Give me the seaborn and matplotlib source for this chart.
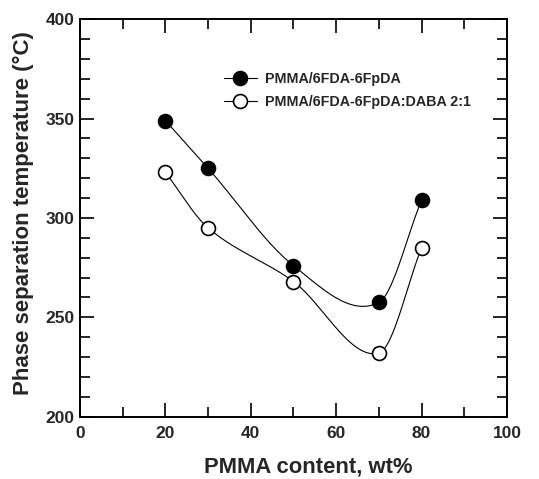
import numpy as np
import pandas as pd
import seaborn as sns
import matplotlib.pyplot as plt
from matplotlib.lines import Line2D
from matplotlib.ticker import MultipleLocator

# data
pmma_wt = [20, 30, 50, 70, 80]
t_6fpda = [349, 325, 276, 257.5, 309]
t_6fpda_daba = [323, 295, 268, 232, 285]
labels = ["PMMA/6FDA-6FpDA", "PMMA/6FDA-6FpDA:DABA 2:1"]


def smooth_curve(x, y, n=60):
    """cardinal (Catmull-Rom style) hermite curve through the points, for the guide lines"""
    x = np.asarray(x, float)
    y = np.asarray(y, float)
    k = len(x)
    m = np.zeros(k)
    m[0] = (y[1] - y[0]) / (x[1] - x[0])
    m[-1] = (y[-1] - y[-2]) / (x[-1] - x[-2])
    for i in range(1, k - 1):
        m[i] = (y[i + 1] - y[i - 1]) / (x[i + 1] - x[i - 1])
    xs_all, ys_all = [], []
    for i in range(k - 1):
        h = x[i + 1] - x[i]
        t = np.linspace(0, 1, n)
        h00 = 2 * t**3 - 3 * t**2 + 1
        h10 = t**3 - 2 * t**2 + t
        h01 = -2 * t**3 + 3 * t**2
        h11 = t**3 - t**2
        xs_all.append(x[i] + t * h)
        ys_all.append(h00 * y[i] + h10 * h * m[i] + h01 * y[i + 1] + h11 * h * m[i + 1])
    return np.concatenate(xs_all), np.concatenate(ys_all)


sns.set_theme(style="ticks")
plt.rcParams['font.family'] = ['Liberation Sans', 'DejaVu Sans']
plt.rcParams['font.weight'] = 'bold'

fig = plt.figure(figsize=(5.39, 4.79), dpi=100)
ax = fig.add_axes([0.1484, 0.130, 0.7922, 0.830])

for yv, face in [(t_6fpda, 'black'), (t_6fpda_daba, 'white')]:
    xs, ys = smooth_curve(pmma_wt, yv)
    sns.lineplot(x=xs, y=ys, ax=ax, color='black', linewidth=0.8, legend=False,
                 sort=False, estimator=None)
    df = pd.DataFrame({'x': pmma_wt, 'y': yv})
    sns.scatterplot(data=df, x='x', y='y', ax=ax, s=100, color=face,
                    edgecolor='black', linewidth=1.2, zorder=5, legend=False)

ax.set_xlim(0, 100)
ax.set_ylim(200, 400)
ax.xaxis.set_major_locator(MultipleLocator(20))
ax.xaxis.set_minor_locator(MultipleLocator(10))
ax.yaxis.set_major_locator(MultipleLocator(50))
ax.yaxis.set_minor_locator(MultipleLocator(10))
ax.tick_params(which='both', direction='in', top=True, right=True,
               width=1.2, color='black', labelsize=12.5)
ax.tick_params(axis='x', pad=7)
ax.tick_params(axis='y', pad=4)
ax.tick_params(which='major', length=10)
ax.tick_params(which='minor', length=7)
for sp in ax.spines.values():
    sp.set_linewidth(1.4)
    sp.set_color('black')

ax.set_xlabel("PMMA content, wt%", fontsize=15.8, fontweight='bold')
ax.xaxis.set_label_coords(0.535, -0.1)
ax.set_ylabel("Phase separation temperature (°C)", fontsize=16, fontweight='bold')
ax.yaxis.set_label_coords(-0.108, 0.513)

handles = [
    Line2D([], [], color='black', lw=0.8, marker='o', markersize=10,
           markerfacecolor='black', markeredgecolor='black', markeredgewidth=1.2),
    Line2D([], [], color='black', lw=0.8, marker='o', markersize=10,
           markerfacecolor='white', markeredgecolor='black', markeredgewidth=1.2),
]
ax.legend(handles, labels, loc='upper left', bbox_to_anchor=(0.32, 0.885),
          frameon=False, borderpad=0, handlelength=2.3, handletextpad=0.55,
          labelspacing=0.6, prop={'size': 10.3, 'weight': 'bold'})

fig.savefig("out.png", dpi=100)
